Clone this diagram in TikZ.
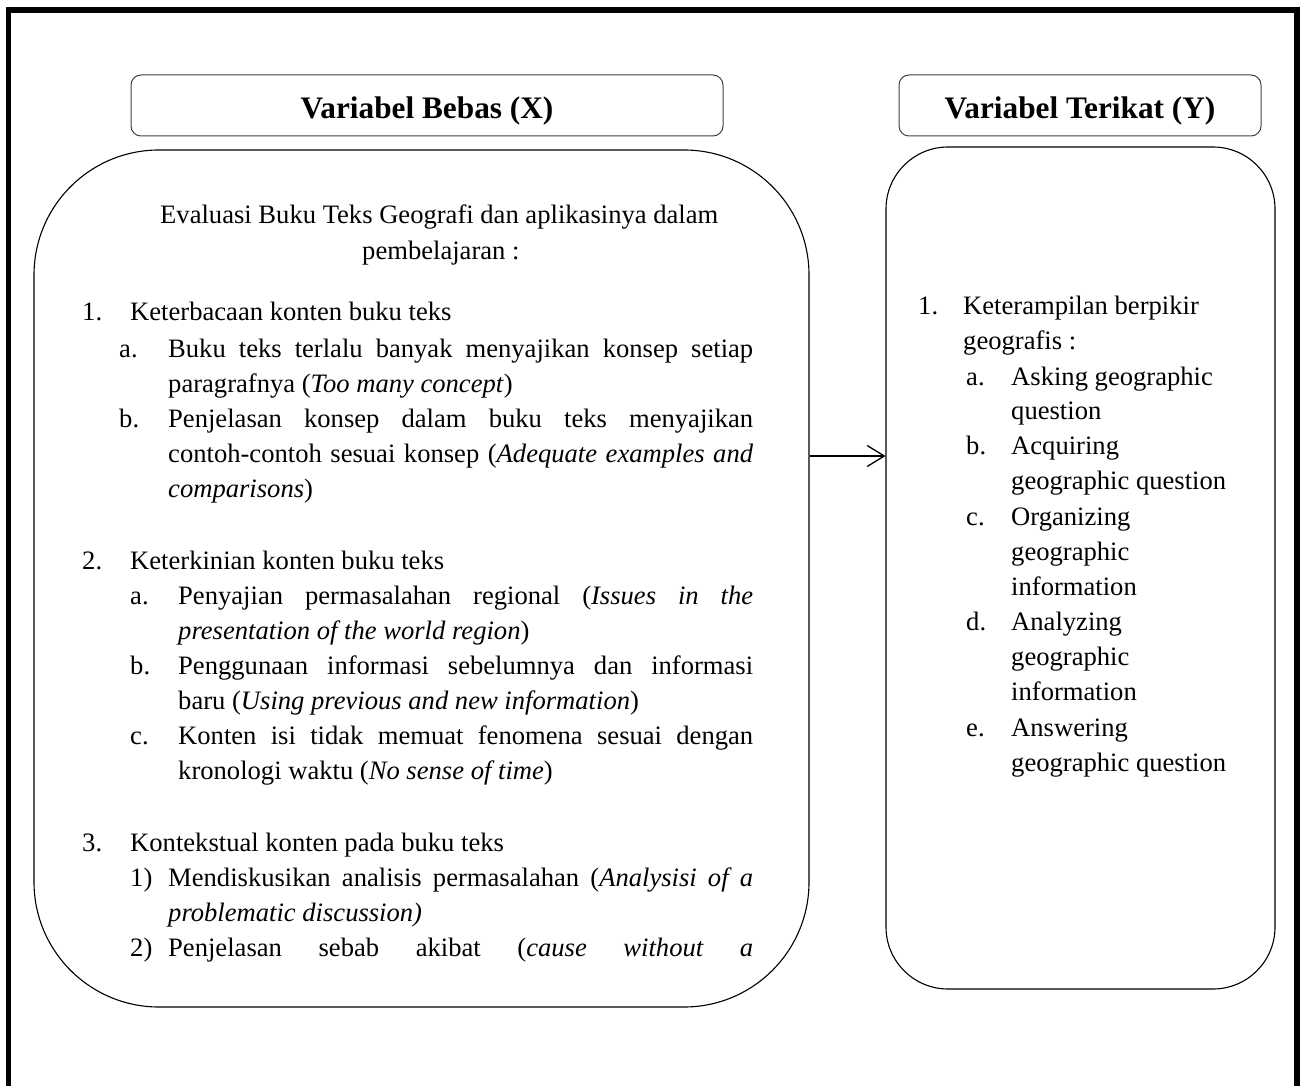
\documentclass[tikz,border=0pt]{standalone}
\usepackage{fontspec}
\setmainfont{Liberation Serif}
\usetikzlibrary{arrows.meta}
\newcommand\jline[2]{\makebox[#1][s]{#2}}
\tikzset{
  hdr/.style={draw=black!75, line width=1pt, rounded corners=10pt, inner sep=0pt, text height=44pt, text depth=17pt, anchor=base, font=\fontsize{31.3}{36}\selectfont\bfseries},
  bigbox/.style={draw=black, line width=1.1pt, inner sep=0pt},
  txt/.style={anchor=base west, inner sep=0pt, font=\fontsize{26.6}{35}\selectfont},
  conn/.style={line width=1.3pt, -{Straight Barb[length=17pt,width=21pt]}},
}
\begin{document}
\begin{tikzpicture}[x=1pt,y=-1pt]
\useasboundingbox (0,0) rectangle (1301,1086);
\draw[line width=5.5pt] (8.5,10) rectangle (1297,1110);

% headers
\node[hdr, minimum width=592pt] (hx) at (427,119) {Variabel Bebas (X)};
\node[hdr, minimum width=362pt] (hy) at (1080,119) {Variabel Terikat (Y)};

% big boxes
\node[bigbox, rounded corners=125pt, minimum width=775pt, minimum height=857pt] (leftbox) at (421.5,578.5) {};
\node[bigbox, rounded corners=62pt, minimum width=389pt, minimum height=842pt] (rightbox) at (1080.5,568) {};

% connector
\coordinate (ay) at (0,456);
\draw[conn] (leftbox.east |- ay) -- (rightbox.west |- ay);

% left box text
\node[txt] (ev1) at (160,224) {Evaluasi Buku Teks Geografi dan aplikasinya dalam};
\node[txt] (ev2) at (362,259) {pembelajaran :};

\node[txt] (n1) at (82,320) {1.};
\node[txt] (n1t) at (130,320) {Keterbacaan konten buku teks};
\node[txt] (n1a) at (119,357) {a.};
\node[txt] (n1a1) at (168,357) {\jline{585pt}{Buku teks terlalu banyak menyajikan konsep setiap}};
\node[txt] (n1a2) at (168,392) {paragrafnya (\textit{Too many concept})};
\node[txt] (n1b) at (119,427) {b.};
\node[txt] (n1b1) at (168,427) {\jline{585pt}{Penjelasan konsep dalam buku teks menyajikan}};
\node[txt] (n1b2) at (168,462) {\jline{585pt}{contoh-contoh sesuai konsep (\textit{Adequate examples and}}};
\node[txt] (n1b3) at (168,497) {\textit{comparisons})};

\node[txt] (n2) at (82,569) {2.};
\node[txt] (n2t) at (130,569) {Keterkinian konten buku teks};
\node[txt] (n2a) at (130,604) {a.};
\node[txt] (n2a1) at (178,604) {\jline{575pt}{Penyajian permasalahan regional (\textit{Issues in the}}};
\node[txt] (n2a2) at (178,639) {\textit{presentation of the world region})};
\node[txt] (n2b) at (130,674) {b.};
\node[txt] (n2b1) at (178,674) {\jline{575pt}{Penggunaan informasi sebelumnya dan informasi}};
\node[txt] (n2b2) at (178,709) {baru (\textit{Using previous and new information})};
\node[txt] (n2c) at (130,744) {c.};
\node[txt] (n2c1) at (178,744) {\jline{575pt}{Konten isi tidak memuat fenomena sesuai dengan}};
\node[txt] (n2c2) at (178,779) {kronologi waktu (\textit{No sense of time})};

\node[txt] (n3) at (82,851) {3.};
\node[txt] (n3t) at (130,851) {Kontekstual konten pada buku teks};
\node[txt] (n31) at (130,886) {1)};
\node[txt] (n311) at (168,886) {\jline{585pt}{Mendiskusikan analisis permasalahan (\textit{Analysisi of a}}};
\node[txt] (n312) at (168,921) {\textit{problematic discussion)}};
\node[txt] (n32) at (130,956) {2)};
\node[txt] (n321) at (168,956) {\jline{585pt}{Penjelasan sebab akibat (\textit{cause without a}}};

% right box text
\node[txt] (r1) at (918,314) {1.};
\node[txt] (r1t) at (963,314) {Keterampilan berpikir};
\node[txt] (r1t2) at (963,349) {geografis :};
\node[txt] (ra) at (966,385) {a.};
\node[txt] (ra1) at (1011,385) {Asking geographic};
\node[txt] (ra2) at (1011,419) {question};
\node[txt] (rb) at (966,454) {b.};
\node[txt] (rb1) at (1011,454) {Acquiring};
\node[txt] (rb2) at (1011,489) {geographic question};
\node[txt] (rc) at (966,525) {c.};
\node[txt] (rc1) at (1011,525) {Organizing};
\node[txt] (rc2) at (1011,560) {geographic};
\node[txt] (rc3) at (1011,595) {information};
\node[txt] (rd) at (966,630) {d.};
\node[txt] (rd1) at (1011,630) {Analyzing};
\node[txt] (rd2) at (1011,665) {geographic};
\node[txt] (rd3) at (1011,700) {information};
\node[txt] (re) at (966,736) {e.};
\node[txt] (re1) at (1011,736) {Answering};
\node[txt] (re2) at (1011,771) {geographic question};
\end{tikzpicture}
\end{document}
